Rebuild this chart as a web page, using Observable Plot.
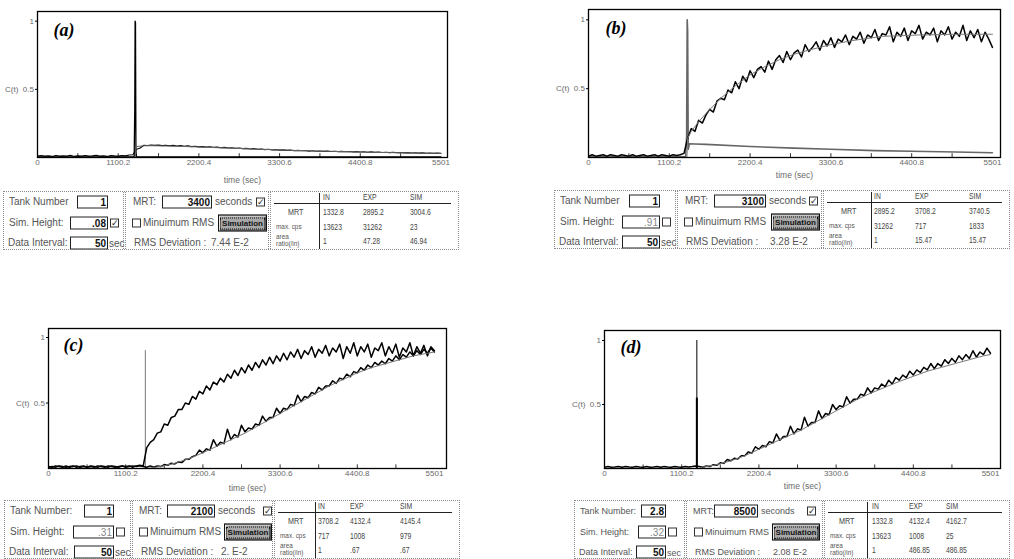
<!DOCTYPE html>
<html><head><meta charset="utf-8">
<script src="https://cdn.jsdelivr.net/npm/d3@7"></script>
<script src="https://cdn.jsdelivr.net/npm/@observablehq/plot@0.6"></script>
<style>
html,body{margin:0;padding:0;background:#fff;}
#page{position:relative;width:1014px;height:559px;overflow:hidden;background:#fff;font-family:"Liberation Sans",Arial,sans-serif;}
.chart{position:absolute;}
.box{position:absolute;height:59px;border:1px dotted #8a8a8a;box-sizing:border-box;color:#555;}
.sep{position:absolute;top:0;bottom:0;width:1px;border-left:1px dotted #8a8a8a;border-right:1px dotted #8a8a8a;}
.t{position:absolute;white-space:nowrap;line-height:1;transform:translateY(-50%);}
.n{position:absolute;white-space:nowrap;line-height:1;transform:translateY(-50%) scaleX(0.8);transform-origin:left center;font-size:8.5px;color:#444;}
.inp{position:absolute;height:13px;border:1px solid #222;background:#fff;box-sizing:border-box;transform:translateY(-50%);text-align:right;font-weight:bold;color:#111;font-size:10px;line-height:11px;padding-right:1px;}
.cb{position:absolute;width:9px;height:9px;border:1px solid #333;box-sizing:border-box;transform:translateY(-50%);font-size:9px;line-height:7px;text-align:center;color:#222;font-family:"DejaVu Sans",sans-serif;overflow:hidden;}
.btn{position:absolute;height:17px;transform:translateY(-50%);background:#a8a8a8;border:1px solid #111;box-shadow:inset 1px 1px 0 #e8e8e8, inset -1px -1px 0 #555;box-sizing:border-box;display:flex;align-items:center;justify-content:center;}
.btn span{border:1px dotted #111;padding:0 1px;font-weight:bold;font-size:8px;color:#111;line-height:10px;}
.hl{position:absolute;height:0;border-top:1px solid #222;}
.vl{position:absolute;width:0;border-left:1px solid #222;}
</style>
</head><body>
<div id="page"></div>
<script>
// ---------- axis ticks ----------
const xTickValues = [0, 1100.2, 2200.4, 3300.6, 4400.8, 5501];
const xTickLabels = ["0", "1100.2", "2200.4", "3300.6", "4400.8", "5501"];
const xMinorTicks = [550.1, 1100.2, 1650.3, 2200.4, 2750.5, 3300.6, 3850.7, 4400.8, 4950.9];
const yTickValues = [0.5, 1];
const yTickLabels = ["C(t)  0.5", "1"];
const panelTitles = ["(a)", "(b)", "(c)", "(d)"];
const timeLabel = "time (sec)";

// ---------- sampled series (Data Interval: 50 sec) ----------
const dataInterval = 50;
const times = d3.range(0, 5501, dataInterval);

const expA = [0.010,0.015,0.010,0.012,0.008,0.015,0.010,0.012,0.010,0.016,
  0.008,0.012,0.010,0.015,0.010,0.012,0.016,0.010,0.012,0.008,
  0.015,0.012,0.010,0.015,0.012,0.018,0.020,
  0.060,0.070,0.090,0.088,0.092,
  0.089,0.091,0.087,0.090,0.086,0.089,0.084,0.087,0.082,0.085,
  0.080,0.083,0.078,0.080,0.076,0.079,0.074,0.076,0.072,0.074,
  0.070,0.072,0.067,0.070,0.065,0.067,0.062,0.065,0.060,0.062,
  0.058,0.060,0.056,0.058,0.054,0.056,0.052,0.054,0.050,0.052,
  0.049,0.051,0.047,0.049,0.046,0.048,0.045,0.047,0.044,0.046,
  0.043,0.045,0.042,0.044,0.041,0.043,0.040,0.042,0.039,0.041,
  0.038,0.040,0.037,0.039,0.036,0.038,0.035,0.037,0.034,0.036,
  0.033,0.035,0.032,0.034,0.031,0.033,0.030,0.032,0.030];
const inATime = [0, 1318, 1326, 1331, 1336, 1342, 1350, 5500];
const inAValue = [0.005, 0.005, 0.35, 1.0, 0.99, 0.05, 0.005, 0.005];
const simATime = [0, 1335, 1345, 1450, 1600, 2000, 2500, 3000, 3500, 4000, 4500, 5000, 5500];
const simAValue = [0, 0, 0.08, 0.086, 0.086, 0.081, 0.071, 0.061, 0.052, 0.045, 0.039, 0.034, 0.03];

const expB = [0.010,0.020,0.010,0.015,0.020,0.010,0.020,0.015,0.010,0.020,
  0.015,0.010,0.020,0.010,0.015,0.020,0.010,0.015,0.020,0.010,
  0.020,0.015,0.010,0.020,0.015,0.020,0.030,
  0.14,0.21,0.19,0.27,0.25,0.31,0.35,0.33,0.41,0.43,
  0.42,0.49,0.47,0.55,0.50,0.59,0.55,0.63,0.58,0.64,
  0.66,0.62,0.70,0.64,0.71,0.74,0.69,0.77,0.71,0.76,
  0.78,0.73,0.82,0.77,0.80,0.84,0.78,0.85,0.81,0.87,
  0.80,0.86,0.84,0.89,0.82,0.88,0.86,0.91,0.83,0.89,
  0.87,0.93,0.85,0.90,0.89,0.95,0.84,0.91,0.88,0.94,
  0.85,0.92,0.90,0.96,0.86,0.91,0.89,0.94,0.84,0.92,
  0.89,0.95,0.86,0.91,0.88,0.96,0.85,0.92,0.87,0.93,
  0.84,0.91,0.86,0.80];
const inBTime = [0, 1322, 1336, 1344, 1350, 1358, 1375, 1450, 1600, 2200, 2800, 3300, 3900, 4400, 5000, 5500];
const inBValue = [0.005, 0.005, 0.15, 1.0, 0.92, 0.06, 0.10, 0.098, 0.095, 0.08, 0.068, 0.06, 0.05, 0.045, 0.04, 0.035];
const simBTime = [0, 1340, 1350, 1400, 1500, 1600, 1800, 2000, 2200, 2400, 2600, 2800, 3000, 3300, 3600, 4000, 4500, 5000, 5500];
const simBValue = [0, 0, 0.14, 0.19, 0.26, 0.32, 0.43, 0.52, 0.60, 0.66, 0.71, 0.75, 0.78, 0.82, 0.85, 0.88, 0.89, 0.895, 0.895];

const inC = [0.015,0.010,0.020,0.015,0.010,0.020,0.010,0.015,0.020,0.010,
  0.015,0.010,0.020,0.015,0.010,0.020,0.015,0.010,0.020,0.015,
  0.010,0.020,0.015,0.020,0.010,0.020,0.025,0.020,
  0.16,0.20,0.22,0.27,0.28,0.34,0.33,0.39,0.40,0.45,
  0.45,0.50,0.49,0.55,0.53,0.59,0.57,0.63,0.60,0.66,
  0.64,0.69,0.66,0.72,0.69,0.75,0.71,0.77,0.73,0.79,
  0.75,0.81,0.77,0.83,0.79,0.85,0.80,0.86,0.82,0.88,
  0.83,0.89,0.85,0.91,0.84,0.90,0.87,0.93,0.85,0.91,
  0.88,0.94,0.86,0.92,0.89,0.95,0.84,0.93,0.88,0.96,
  0.86,0.93,0.89,0.95,0.85,0.92,0.90,0.96,0.86,0.93,
  0.88,0.95,0.85,0.92,0.89,0.96,0.86,0.93,0.88,0.94,
  0.86,0.93,0.90];
const expC = [0.010,0.015,0.010,0.020,0.015,0.010,0.015,0.020,0.010,0.015,
  0.020,0.010,0.015,0.010,0.020,0.015,0.010,0.020,0.015,0.010,
  0.015,0.020,0.010,0.015,0.020,0.015,0.020,0.015,
  0.01,0.02,0.01,0.02,0.015,0.03,0.025,0.04,0.035,0.05,
  0.045,0.07,0.07,0.09,0.10,0.14,0.12,0.15,0.14,0.22,
  0.17,0.20,0.19,0.30,0.22,0.26,0.24,0.33,0.28,0.31,
  0.30,0.34,0.33,0.40,0.36,0.39,0.39,0.46,0.42,0.46,
  0.45,0.49,0.48,0.56,0.51,0.55,0.54,0.58,0.57,0.62,
  0.60,0.63,0.63,0.67,0.65,0.69,0.68,0.72,0.70,0.74,
  0.73,0.77,0.75,0.79,0.77,0.81,0.79,0.82,0.80,0.84,
  0.82,0.86,0.83,0.87,0.85,0.89,0.86,0.90,0.87,0.91,
  0.88,0.92,0.89];
const simCTime = [0, 1400, 1600, 1800, 2000, 2200, 2400, 2600, 2800, 3000, 3200, 3400, 3600, 3800, 4000, 4200, 4400, 4600, 4800, 5000, 5200, 5400, 5500];
const simCValue = [0, 0, 0.015, 0.04, 0.075, 0.12, 0.17, 0.22, 0.27, 0.33, 0.39, 0.45, 0.51, 0.57, 0.63, 0.68, 0.73, 0.77, 0.80, 0.83, 0.86, 0.88, 0.89];
const spikeCTime = [1380];
const spikeCTop = [0.9];

const expD = [0.010,0.015,0.010,0.012,0.015,0.010,0.015,0.012,0.010,0.015,
  0.012,0.010,0.015,0.010,0.012,0.015,0.010,0.015,0.012,0.010,
  0.015,0.012,0.010,0.015,0.012,0.015,0.020,0.015,
  0.01,0.02,0.015,0.03,0.025,0.045,0.04,0.07,0.06,0.08,
  0.075,0.10,0.10,0.13,0.12,0.17,0.15,0.18,0.17,0.21,
  0.20,0.27,0.22,0.25,0.25,0.33,0.27,0.31,0.30,0.40,
  0.33,0.36,0.36,0.45,0.39,0.43,0.42,0.50,0.46,0.49,
  0.48,0.56,0.51,0.54,0.54,0.58,0.57,0.63,0.59,0.63,
  0.62,0.66,0.64,0.69,0.66,0.71,0.69,0.73,0.71,0.76,
  0.73,0.77,0.75,0.79,0.77,0.82,0.78,0.82,0.80,0.85,
  0.82,0.86,0.83,0.88,0.85,0.89,0.86,0.92,0.87,0.91,
  0.89,0.94,0.90];
const simDTime = [0, 1350, 1400, 1600, 1800, 2000, 2200, 2400, 2600, 2800, 3000, 3200, 3400, 3600, 3800, 4000, 4200, 4400, 4600, 4800, 5000, 5200, 5400, 5500];
const simDValue = [0, 0, 0.01, 0.03, 0.06, 0.10, 0.15, 0.20, 0.25, 0.30, 0.36, 0.42, 0.48, 0.54, 0.59, 0.635, 0.68, 0.72, 0.76, 0.79, 0.82, 0.85, 0.88, 0.89];
const spikeDTime = [1316];
const spikeDTop = [1.0];
const spikeDThickTop = [0.55];

// ---------- form / table values ----------
const tankLabels = ["Tank Number", "Tank Number", "Tank Number:", "Tank Number:"];
const tankNumber = ["1", "1", "1", "2.8"];
const simHeight = [".08", ".91", ".31", ".32"];
const simHeightChecked = [true, false, false, false];
const dataIntervalText = ["50", "50", "50", "50"];
const mrtSetting = ["3400", "3100", "2100", "8500"];
const rmsDeviation = ["7.44 E-2", "3.28 E-2", "2. E-2", "2.08 E-2"];
const tableColumns = ["IN", "EXP", "SIM"];
const mrtValues = [["1332.8", "2895.2", "3004.6"], ["2895.2", "3708.2", "3740.5"], ["3708.2", "4132.4", "4145.4"], ["1332.8", "4132.4", "4162.7"]];
const maxCps = [["13623", "31262", "23"], ["31262", "717", "1833"], ["717", "1008", "979"], ["13623", "1008", "25"]];
const areaRatio = [["1", "47.28", "46.94"], ["1", "15.47", "15.47"], ["1", ".67", ".67"], ["1", "486.85", "486.85"]];

// ---------- layout ----------
const chartLayout = [
  {left: 0, top: 0, width: 470, height: 192, mL: 37, mR: 23, mT: 11, mB: 35, xMax: 5590, yMax: 1.071, tdx: 16, tdy: 18.5, timeDy: 23},
  {left: 551, top: 0, width: 463, height: 192, mL: 37, mR: 14, mT: 9, mB: 35, xMax: 5610, yMax: 1.075, tdx: 17, tdy: 19, timeDy: 18},
  {left: 0, top: 318, width: 470, height: 182, mL: 48, mR: 24, mT: 10, mB: 32, xMax: 5672, yMax: 1.069, tdx: 15, tdy: 17, timeDy: 20},
  {left: 551, top: 318, width: 463, height: 182, mL: 53, mR: 14, mT: 12, mB: 32, xMax: 5643, yMax: 1.078, tdx: 16, tdy: 17, timeDy: 18}
];
const boxLayout = [
  {left: 3, top: 191, w1: 122, w2: 145, w3: 189, fs: 10, R: 104, tankW: 31, simW: 38, dataW: 38,
   mrtL: 7, mrtIn: 36, mrtW: 50, cb1: 130, cb2: 6, btn: 92, btnW: 49, rmsL: 8, rmsV: 85, cols: [48, 52, 92, 139]},
  {left: 554, top: 190, w1: 123, w2: 146, w3: 187, fs: 10, R: 105, tankW: 31, simW: 38, dataW: 38,
   mrtL: 7, mrtIn: 36, mrtW: 52, cb1: 131, cb2: 6, btn: 93, btnW: 49, rmsL: 8, rmsV: 92, cols: [47, 50, 91, 145]},
  {left: 4, top: 500, w1: 128, w2: 142, w3: 186, fs: 10, R: 109, tankW: 30, simW: 41, dataW: 40,
   mrtL: 6, mrtIn: 34, mrtW: 48, cb1: 130, cb2: 6, btn: 91, btnW: 48, rmsL: 8, rmsV: 88, cols: [40, 43, 75, 125]},
  {left: 574, top: 500, w1: 112, w2: 138, w3: 186, fs: 9, R: 91, tankW: 25, simW: 28, dataW: 30,
   mrtL: 6, mrtIn: 27, mrtW: 44, cb1: 120, cb2: 7, btn: 85, btnW: 48, rmsL: 8, rmsV: 86, cols: [42, 47, 84, 121]}
];

const series = (ts, vs) => ts.map((t, i) => ({t, v: vs[i]}));
const fontSans = "'Liberation Sans', Arial, sans-serif";
const grayText = "#6a6a6a";
const noisyW = 1.5;

const panelMarks = [
  [
    Plot.line(series(inATime, inAValue), {x: "t", y: "v", stroke: "black", strokeWidth: 1.3, clip: true}),
    Plot.line(series(times, expA), {x: "t", y: "v", stroke: "black", strokeWidth: 1.1, clip: true}),
    Plot.line(series(simATime, simAValue), {x: "t", y: "v", stroke: "#666", strokeWidth: 1, clip: true})
  ],
  [
    Plot.line(series(inBTime, inBValue), {x: "t", y: "v", stroke: "#666", strokeWidth: 1.6, clip: true}),
    Plot.line(series(times, expB), {x: "t", y: "v", stroke: "black", strokeWidth: noisyW, clip: true}),
    Plot.line(series(simBTime, simBValue), {x: "t", y: "v", stroke: "#777", strokeWidth: 1, clip: true})
  ],
  [
    Plot.ruleX(spikeCTime, {x: d => d, y1: 0, y2: (d, i) => spikeCTop[i], stroke: "#777", strokeWidth: 1}),
    Plot.line(series(times, inC), {x: "t", y: "v", stroke: "black", strokeWidth: noisyW, clip: true}),
    Plot.line(series(times, expC), {x: "t", y: "v", stroke: "black", strokeWidth: noisyW, clip: true}),
    Plot.line(series(simCTime, simCValue), {x: "t", y: "v", stroke: "#777", strokeWidth: 1, clip: true})
  ],
  [
    Plot.ruleX(spikeDTime, {x: d => d, y1: 0, y2: (d, i) => spikeDTop[i], stroke: "black", strokeWidth: 1}),
    Plot.ruleX(spikeDTime, {x: d => d, y1: 0, y2: (d, i) => spikeDThickTop[i], stroke: "black", strokeWidth: 2}),
    Plot.line(series(times, expD), {x: "t", y: "v", stroke: "black", strokeWidth: noisyW, clip: true}),
    Plot.line(series(simDTime, simDValue), {x: "t", y: "v", stroke: "#777", strokeWidth: 1, clip: true})
  ]
];

const page = document.getElementById("page");

chartLayout.forEach((L, k) => {
  const chart = Plot.plot({
    width: L.width, height: L.height,
    marginLeft: L.mL, marginRight: L.mR, marginTop: L.mT, marginBottom: L.mB,
    style: {fontFamily: fontSans, background: "white"},
    x: {domain: [0, L.xMax]},
    y: {domain: [0, L.yMax]},
    marks: [
      Plot.ruleX(xMinorTicks, {x: d => d, y1: 0, y2: 0.028, stroke: "black", strokeWidth: 0.8}),
      ...panelMarks[k],
      Plot.axisX({ticks: xTickValues, tickFormat: d => xTickLabels[xTickValues.indexOf(d)], tickSize: 0, tickPadding: 2, fontSize: 8, fill: grayText, label: null}),
      Plot.axisY({ticks: yTickValues, tickFormat: d => yTickLabels[yTickValues.indexOf(d)], tickSize: 2, tickPadding: 1.5, fontSize: 8, fill: grayText, stroke: "black", label: null}),
      Plot.text([panelTitles[k]], {frameAnchor: "top-left", dx: L.tdx, dy: L.tdy, lineAnchor: "middle", textAnchor: "start", fontSize: 18, fontFamily: "'Liberation Serif', 'Times New Roman', serif", fontWeight: "bold", fontStyle: "italic", fill: "black"}),
      Plot.text([timeLabel], {frameAnchor: "bottom", dy: L.timeDy, lineAnchor: "middle", fontSize: 8.5, fill: grayText}),
      Plot.frame({stroke: "black", strokeWidth: 1.3})
    ]
  });
  const wrap = document.createElement("div");
  wrap.className = "chart";
  wrap.style.left = L.left + "px";
  wrap.style.top = L.top + "px";
  wrap.appendChild(chart);
  page.appendChild(wrap);
});

// ---------- form boxes ----------
const T = (x, y, s, st = "") => `<div class="t" style="left:${x}px;top:${y}px;${st}">${s}</div>`;
const N = (x, y, s, st = "") => `<div class="n" style="left:${x}px;top:${y}px;${st}">${s}</div>`;
const INP = (x, y, w, s, st = "") => `<div class="inp" style="left:${x}px;top:${y}px;width:${w}px;${st}">${s}</div>`;
const CB = (x, y, c) => `<div class="cb" style="left:${x}px;top:${y}px;">${c ? "\u2713" : ""}</div>`;

boxLayout.forEach((B, k) => {
  const box = document.createElement("div");
  box.className = "box";
  box.style.left = B.left + "px";
  box.style.top = B.top + "px";
  box.style.width = (B.w1 + B.w2 + B.w3) + "px";
  box.style.fontSize = B.fs + "px";
  const r1 = 10, r2 = 31, r3 = 51;
  const R = B.R;
  let h = "";
  // section 1
  h += T(5, r1, tankLabels[k]);
  h += INP(R - B.tankW, r1, B.tankW, tankNumber[k]);
  h += T(5, r2, "Sim. Height:");
  h += INP(R - B.simW, r2, B.simW, simHeight[k], simHeightChecked[k] ? "" : "font-weight:normal;color:#888;");
  h += CB(R + 2, r2, simHeightChecked[k]);
  h += T(4, r3, "Data Interval:");
  h += INP(R - B.dataW, r3, B.dataW, dataIntervalText[k]);
  h += T(R + 1, r3 + 1, "sec");
  h += `<div class="sep" style="left:${B.w1 - 3}px"></div>`;
  // section 2
  const s2 = B.w1;
  h += T(s2 + B.mrtL, r1, "MRT:");
  h += INP(s2 + B.mrtIn, r1, B.mrtW, mrtSetting[k]);
  h += T(s2 + B.mrtIn + B.mrtW + 3, r1, "seconds");
  h += CB(s2 + B.cb1, r1, true);
  h += CB(s2 + B.cb2, r2, false);
  h += T(s2 + B.cb2 + 11, r2, "Minuimum RMS");
  h += `<div class="btn" style="left:${s2 + B.btn}px;width:${B.btnW}px;top:${r2}px;"><span>Simulation</span></div>`;
  h += T(s2 + B.rmsL, r3, "RMS Deviation :");
  h += T(s2 + B.rmsV, r3, rmsDeviation[k]);
  h += `<div class="sep" style="left:${B.w1 + B.w2 - 3}px"></div>`;
  // section 3 : table
  const s3 = B.w1 + B.w2;
  const [cv, c1, c2, c3] = B.cols;
  const colX = [c1, c2, c3];
  tableColumns.forEach((c, j) => { h += N(s3 + colX[j], 5, c); });
  h += `<div class="hl" style="left:${s3 + 3}px;top:11px;width:${B.w3 - 12}px;"></div>`;
  h += `<div class="vl" style="left:${s3 + cv}px;top:1px;height:56px;"></div>`;
  h += N(s3 + cv / 2 - 7, 20, "MRT", "font-size:9px;");
  h += N(s3 + 5, 35, "max. cps", "font-size:8px;color:#555;");
  h += N(s3 + 5, 45, "area", "font-size:8px;color:#555;");
  h += N(s3 + 5, 52, "ratio(/in)", "font-size:8px;color:#555;");
  colX.forEach((x, j) => {
    h += N(s3 + x, 20, mrtValues[k][j]);
    h += N(s3 + x, 35, maxCps[k][j]);
    h += N(s3 + x, 49, areaRatio[k][j]);
  });
  box.innerHTML = h;
  page.appendChild(box);
});
</script>
</body></html>
